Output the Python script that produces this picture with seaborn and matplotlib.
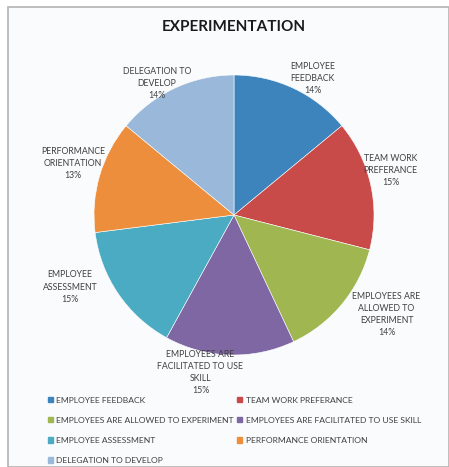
import matplotlib
matplotlib.use("Agg")
import matplotlib.pyplot as plt
import matplotlib.patches as mpatches
import seaborn as sns

sns.set_theme(style="white")
plt.rcParams["font.family"] = ["Lato", "DejaVu Sans"]

# Survey factors and their shares (%)
categories = [
    "EMPLOYEE FEEDBACK",
    "TEAM WORK PREFERANCE",
    "EMPLOYEES ARE ALLOWED TO EXPERIMENT",
    "EMPLOYEES ARE FACILITATED TO USE SKILL",
    "EMPLOYEE ASSESSMENT",
    "PERFORMANCE ORIENTATION",
    "DELEGATION TO DEVELOP",
]
shares = [14, 15, 14, 15, 15, 13, 14]
slice_labels = [
    "EMPLOYEE\nFEEDBACK",
    "TEAM WORK\nPREFERANCE",
    "EMPLOYEES ARE\nALLOWED TO\nEXPERIMENT",
    "EMPLOYEES ARE\nFACILITATED TO USE\nSKILL",
    "EMPLOYEE\nASSESSMENT",
    "PERFORMANCE\nORIENTATION",
    "DELEGATION TO\nDEVELOP",
]
colors = ["#3d84bd", "#c84b4a", "#a0b651", "#7f67a3", "#4aabc2", "#ec8e3b", "#9ab8da"]

# Label anchor points (in pie-radius units, relative to the pie centre)
label_pos = [
    (0.56, 0.975),
    (1.12, 0.32),
    (1.09, -0.71),
    (-0.24, -1.125),
    (-1.17, -0.515),
    (-1.15, 0.37),
    (-0.55, 0.94),
]

W, H = 449, 467
fig = plt.figure(figsize=(W / 100, H / 100), dpi=100)
fig.patch.set_facecolor("white")

# Chart area frame
frame = mpatches.Rectangle((8 / W, 0), 1 - 8 / W, 1 - 7 / H, transform=fig.transFigure,
                           facecolor="#fafbfd", edgecolor="#b4b4b4", linewidth=1.2, zorder=-5)
fig.patches.append(frame)

ax = fig.add_axes([0, 0, 1, 1])
ax.set_facecolor("none")
ax.set_zorder(1)
cx, cy, r = 234, 215, 140

wedges, _ = ax.pie(shares, colors=colors, startangle=90, counterclock=False,
                   radius=1.0, center=(0, 0),
                   wedgeprops=dict(edgecolor="white", linewidth=0.4))
ax.set_aspect("auto")
ax.set_xlim((0 - cx) / r, (W - cx) / r)
ax.set_ylim((cy - H) / r, cy / r)
ax.axis("off")

for lab, val, (x, y) in zip(slice_labels, shares, label_pos):
    ax.text(x, y, f"{lab}\n{val}%", ha="center", va="center",
            fontsize=6.3, color="#404040", linespacing=1.45)

fig.text(234 / W, 1 - 27 / H, "EXPERIMENTATION", ha="center", va="center",
         fontsize=11, fontweight="bold", color="#1a1a1a")

order = [0, 2, 4, 6, 1, 3, 5]
handles = [mpatches.Patch(color=colors[i]) for i in order]
labels = [categories[i] for i in order]
fig.legend(handles, labels, ncol=2, loc="upper left",
           bbox_to_anchor=(40 / W, 1 - 389 / H), frameon=False,
           fontsize=6.1, handlelength=0.6, handleheight=0.6, handletextpad=0.4,
           columnspacing=0.45, labelspacing=1.55, labelcolor="#404040")

fig.savefig("out.png", dpi=100)
